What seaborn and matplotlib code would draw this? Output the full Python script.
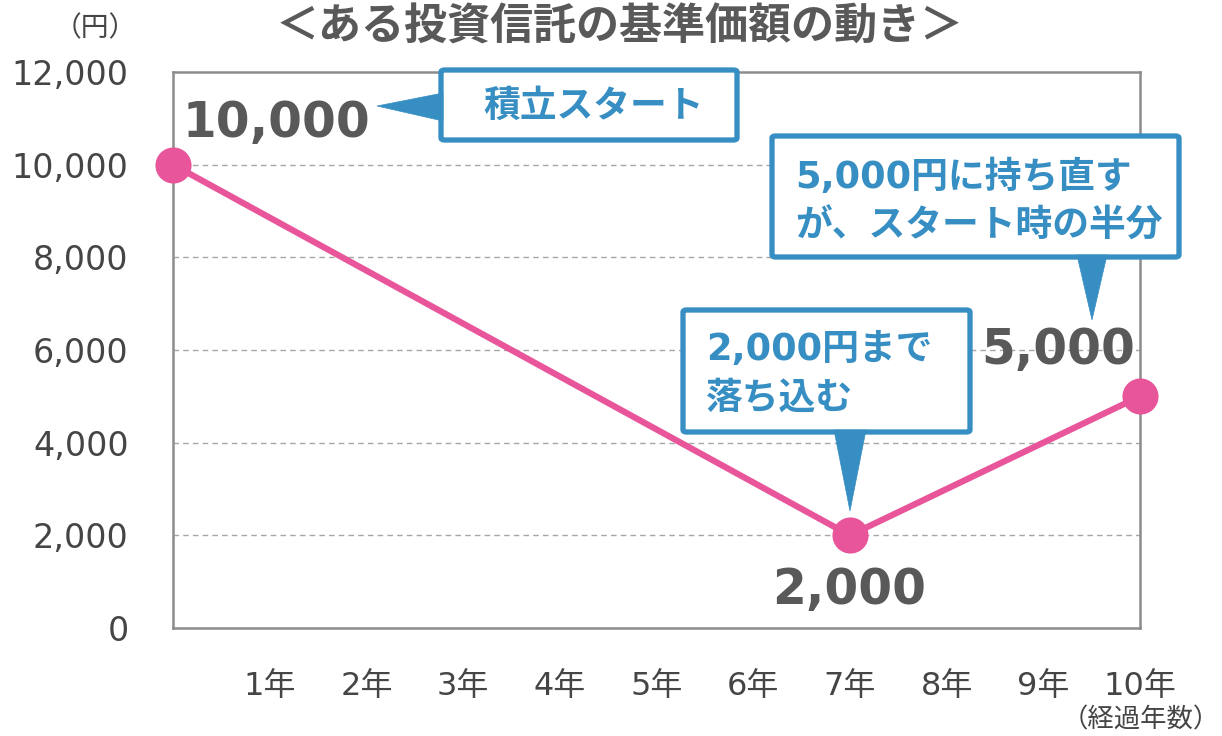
import matplotlib
matplotlib.use("Agg")
import matplotlib.pyplot as plt
import seaborn as sns
import pandas as pd
from matplotlib.patches import FancyBboxPatch, Polygon

# data
years = [0, 7, 10]
prices = [10000, 2000, 5000]
tick_years = [1, 2, 3, 4, 5, 6, 7, 8, 9, 10]
tick_labels = [f"{y}年" for y in tick_years]
y_ticks = [0, 2000, 4000, 6000, 8000, 10000, 12000]

title = "＜ある投資信託の基準価額の動き＞"
callouts = ["積立スタート", "5,000円に持ち直す\nが、スタート時の半分", "2,000円まで\n落ち込む"]

PINK = "#E8559A"
BLUE = "#368EC3"
GRAY = "#595959"
DARK = "#454545"

sns.set_style("white")
plt.rcParams['font.family'] = ['DejaVu Sans', 'Noto Sans CJK JP']

W, H = 1222, 736
fig = plt.figure(figsize=(W / 100, H / 100), dpi=100)
ax = fig.add_axes([173 / W, 1 - 628 / H, (1140 - 173) / W, (628 - 72) / H])

df = pd.DataFrame({"year": years, "price": prices})
sns.lineplot(data=df, x="year", y="price", ax=ax, color=PINK, linewidth=4.5,
             marker="o", markersize=26, markeredgewidth=0, zorder=5, clip_on=False)

ax.set_xlim(0, 10)
ax.set_ylim(0, 12000)
ax.set_xticks(tick_years)
ax.set_xticklabels(tick_labels, fontsize=23, color=DARK)
ax.set_yticks(y_ticks)
ax.set_yticklabels([f"{v:,}" for v in y_ticks], fontsize=24, color=DARK)
ax.tick_params(axis="x", direction="in", length=11, width=1.2, color="#8C8C8C", pad=31)
ax.tick_params(axis="y", length=0, pad=32)
ax.set_xlabel("")
ax.set_ylabel("")
for yv in y_ticks[1:-1]:
    ax.axhline(yv, color="#A6A6A6", linestyle=(0, (4, 3)), linewidth=1.0, zorder=1)
for s in ax.spines.values():
    s.set_color("#8C8C8C")
    s.set_linewidth(1.8)


def fx(x):
    return x / W


def fy(y):
    return 1 - y / H


fig.text(fx(620), fy(28), title, fontsize=31, fontweight="bold", color=GRAY,
         ha="center", va="center")
fig.text(fx(95), fy(28), "（円）", fontsize=20, color=DARK, ha="center", va="center")
fig.text(fx(1220), fy(720), "（経過年数）", fontsize=19, color=DARK, ha="right", va="center")

# value labels
big = dict(fontsize=35, fontweight="bold", color=GRAY, ha="center", va="center")
fig.text(fx(276), fy(123), f"{prices[0]:,}", **big)
fig.text(fx(849), fy(590), f"{prices[1]:,}", **big)
fig.text(fx(1058), fy(350), f"{prices[2]:,}", **big)


def callout(x0, y0, x1, y1, pointer, text, tx, ty):
    box = FancyBboxPatch((fx(x0), fy(y1)), fx(x1) - fx(x0), fy(y0) - fy(y1),
                         boxstyle="round,pad=0,rounding_size=0.003",
                         transform=fig.transFigure, facecolor="white",
                         edgecolor=BLUE, linewidth=3.8, zorder=10)
    fig.add_artist(box)
    tri = Polygon([(fx(px), fy(py)) for px, py in pointer], closed=True,
                  transform=fig.transFigure, facecolor=BLUE, edgecolor=BLUE,
                  linewidth=0.5, zorder=11)
    fig.add_artist(tri)
    fig.text(fx(tx), fy(ty), text, fontsize=26.5, fontweight="bold", color=BLUE,
             ha="left", va="center", linespacing=1.4, zorder=12)


callout(441, 70, 737, 140, [(443, 93), (443, 121), (377, 106)], callouts[0], 483, 106)
callout(772, 136, 1179, 257, [(1077, 255), (1107, 255), (1092, 320)], callouts[1], 795, 202)
callout(683, 310, 970, 432, [(834, 430), (866, 430), (850, 511)], callouts[2], 706, 374)

fig.savefig("out.png", dpi=100)
